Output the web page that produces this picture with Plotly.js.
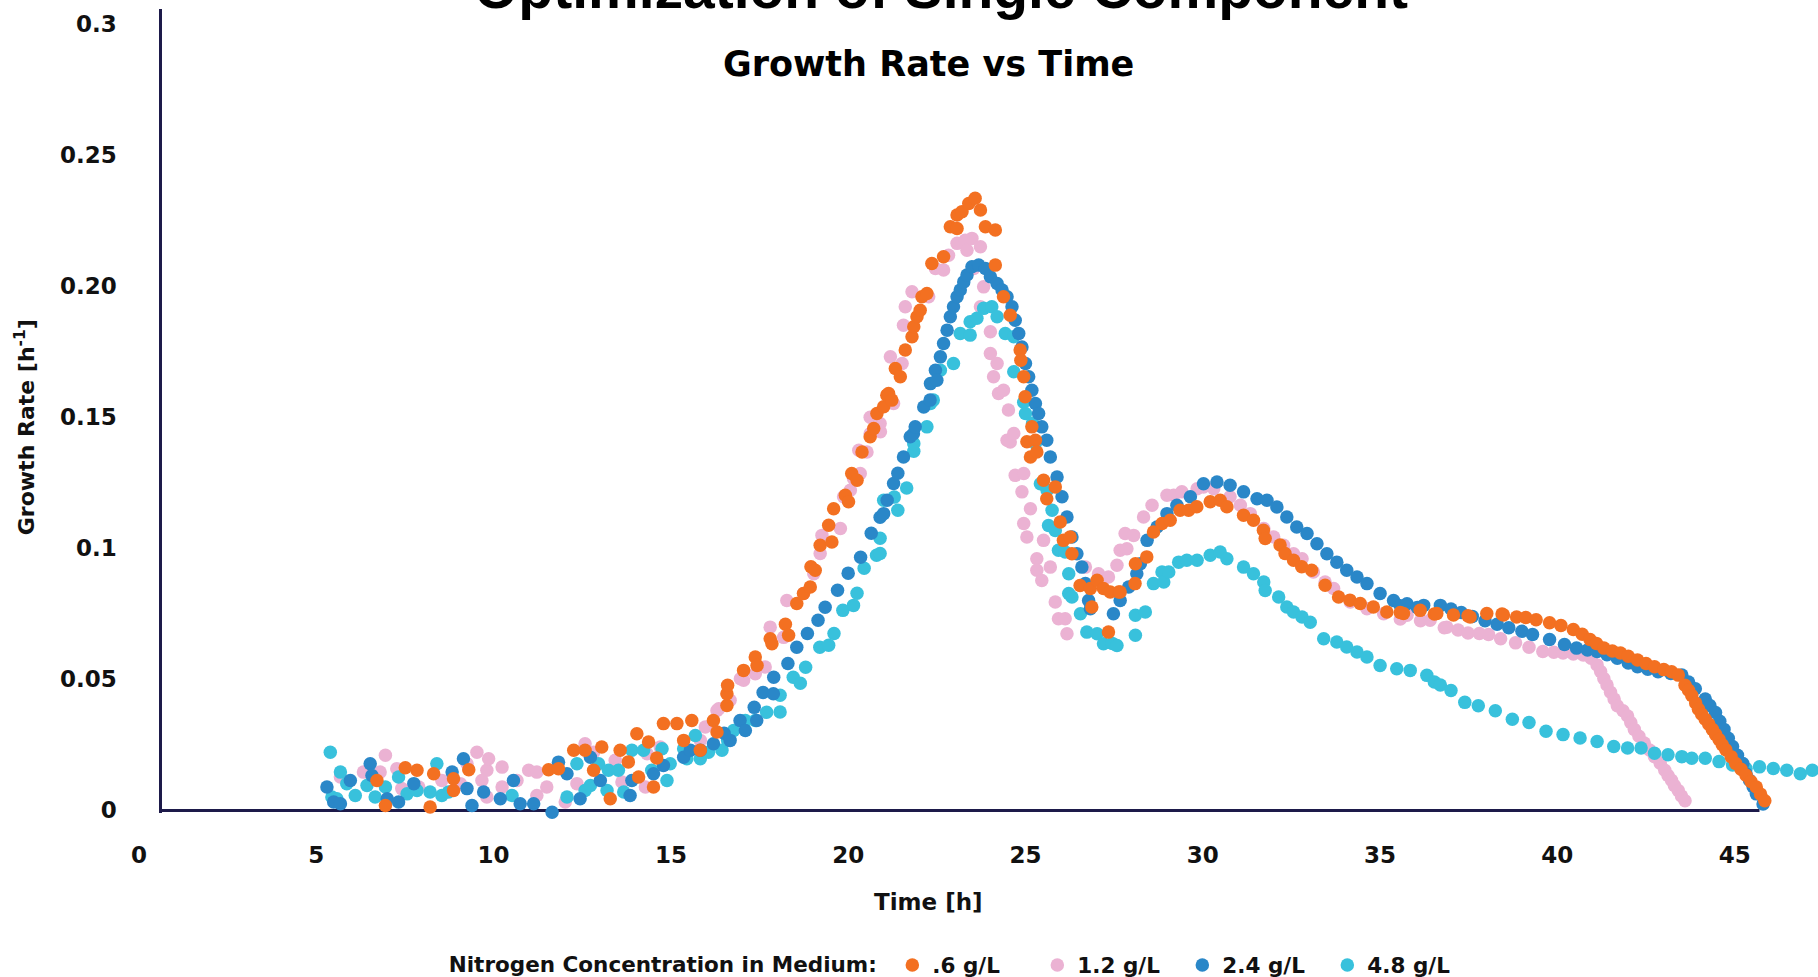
<!DOCTYPE html>
<html>
<head>
<meta charset="utf-8">
<script src="https://cdn.plot.ly/plotly-3.0.1.min.js"></script>
<style>html,body{margin:0;padding:0;background:#fff;}#chart{width:1818px;height:977px;}</style>
</head>
<body>
<div id="chart"></div>
<script>
// ---------- data ----------
const seriesNames = [".6 g/L", "1.2 g/L", "2.4 g/L", "4.8 g/L"];

const orangeX = [6.71,6.95,7.51,7.84,8.21,8.31,8.87,8.87,9.3,11.55,11.83,12.26,12.58,12.82,13.05,13.29,13.57,13.8,14.04,14.09,14.37,14.51,14.6,14.79,15.17,15.36,15.59,15.83,16.2,16.3,16.58,16.58,16.6,
17.05,17.38,17.43,17.8,17.85,18.23,18.32,18.55,18.74,18.93,18.95,19.07,19.21,19.45,19.54,19.59,19.92,20.01,20.1,20.25,20.39,20.62,20.72,20.81,21.0,21.09,21.14,21.23,21.33,21.47,21.61,21.8,21.85,21.94,22.03,22.08,22.22,22.36,22.69,22.88,23.07,23.07,23.21,23.4,23.58,23.73,23.87,24.15,24.15,24.38,24.57,24.85,24.87,24.95,24.99,25.04,25.18,25.28,25.14,25.32,25.51,25.6,25.84,25.98,26.07,26.26,26.31,26.54,26.83,26.87,27.02,27.2,27.34,27.39,27.63,27.67,28.09,28.1,28.42,28.61,28.85,29.08,29.36,29.6,29.83,30.21,30.49,30.68,31.15,31.43,31.71,31.76,32.18,32.32,32.56,32.79,33.07,33.45,33.83,34.15,34.44,34.81,35.19,35.57,35.66,36.13,36.53,36.6,37.07,37.48,37.54,38.01,38.44,38.48,38.85,39.11,39.4,39.78,40.1,40.45,40.7,40.92,41.1,41.31,41.55,41.78,42.0,42.26,42.5,42.74,43.0,43.22,43.41,43.6,43.7,43.79,43.9,43.98,44.07,44.17,44.27,44.37,44.46,44.56,44.65,44.75,44.9,45.03,45.18,45.32,45.46,45.61,45.73,45.85];
const orangeY = [0.0114,0.0019,0.0163,0.0153,0.0013,0.0140,0.0121,0.0076,0.0155,0.0155,0.0159,0.0229,0.0229,0.0153,0.0242,0.0044,0.0229,0.0185,0.0292,0.0127,0.0261,0.0089,0.0200,0.0331,0.0331,0.0267,0.0343,0.0229,0.0343,0.0299,0.0400,0.0445,0.0477,
0.0534,0.0585,0.0553,0.0655,0.0636,0.0710,0.0668,0.0789,0.0827,0.0852,0.0929,0.0916,0.1011,0.1088,0.1024,0.1151,0.1202,0.1177,0.1285,0.1259,0.1367,0.1425,0.1457,0.1514,0.1540,0.1584,0.1590,0.1565,0.1686,0.1654,0.1756,0.1807,0.1845,0.1883,0.1908,0.1959,0.1972,0.2086,0.2112,0.2226,0.2220,0.2271,0.2284,0.2315,0.2335,0.2290,0.2226,0.2214,0.2080,0.1959,0.1889,0.1756,0.1717,0.1654,0.1578,0.1406,0.1463,0.1412,0.1348,0.1367,0.1259,0.1189,0.1234,0.1100,0.1030,0.1043,0.0979,0.0858,0.0846,0.0776,0.0878,0.0846,0.0680,0.0833,0.0833,0.0833,0.0865,0.0941,0.0967,0.1062,0.1094,0.1107,0.1145,0.1145,0.1158,0.1177,0.1183,0.1158,0.1126,0.1107,0.1069,0.1037,0.1012,0.0980,0.0954,0.0929,0.0916,0.0859,0.0814,0.0802,0.0789,0.0776,0.0757,0.0755,0.0751,0.0763,0.0749,0.0751,0.0745,0.0742,0.0738,0.0751,0.0749,0.0745,0.0738,0.0736,0.0727,0.0716,0.0705,0.0690,0.0672,0.0652,0.0637,0.0619,0.0608,0.0600,0.0588,0.0574,0.0560,0.0548,0.0537,0.0529,0.0516,0.0477,0.0458,0.0438,0.0410,0.0386,0.0367,0.0348,0.0329,0.0309,0.0290,0.0270,0.0250,0.0231,0.0205,0.0179,0.0157,0.0134,0.0110,0.0089,0.0062,0.0037];

const pinkX = [5.68,6.33,6.8,6.95,7.27,7.41,7.89,8.54,9.06,9.25,9.53,9.67,9.81,9.81,9.86,10.24,10.24,10.66,10.99,11.22,11.22,11.5,12.02,12.35,12.58,12.82,13.43,13.62,14.28,14.33,14.7,15.83,15.97,16.3,16.35,16.67,16.96,17.05,17.38,17.66,17.8,18.18,18.27,18.74,19.03,19.21,19.26,19.78,19.87,20.06,20.15,20.3,20.34,20.53,20.62,20.62,20.9,20.91,21.14,21.19,21.28,21.52,21.56,21.61,21.8,22.27,22.46,22.69,22.83,23.07,23.3,23.35,23.49,23.54,23.73,23.73,23.82,24.01,24.01,24.1,24.2,24.24,24.38,24.48,24.52,24.57,24.67,24.71,24.9,24.95,24.95,25.04,25.14,25.32,25.32,25.46,25.51,25.7,25.84,25.93,26.12,26.17,26.69,27.06,27.34,27.58,27.67,27.81,27.86,28.05,28.33,28.57,28.99,29.18,29.41,29.84,30.02,30.31,30.77,31.06,31.34,31.72,32.0,32.28,32.56,32.8,33.12,33.45,33.69,34.16,34.63,35.1,35.57,35.76,36.14,36.41,36.81,36.88,37.2,37.48,37.8,38.06,38.4,38.82,39.2,39.59,39.9,40.16,40.45,40.73,40.95,41.12,41.22,41.31,41.4,41.5,41.6,41.69,41.85,41.98,42.07,42.17,42.3,42.45,42.6,42.74,42.9,43.03,43.12,43.22,43.3,43.41,43.5,43.6];
const pinkY = [0.0127,0.0146,0.0146,0.0210,0.0159,0.0083,0.0089,0.0114,0.0102,0.0178,0.0222,0.0114,0.0153,0.0051,0.0197,0.0165,0.0089,0.0114,0.0153,0.0146,0.0057,0.0089,0.0032,0.0102,0.0254,0.0222,0.0191,0.0108,0.0089,0.0216,0.0242,0.0267,0.0318,0.0381,0.0388,0.0420,0.0502,0.0496,0.0521,0.0547,0.0699,0.0660,0.0801,0.0827,0.0903,0.0980,0.1049,0.1075,0.1196,0.1221,0.1266,0.1374,0.1285,0.1367,0.1437,0.1500,0.1476,0.1444,0.1584,0.1730,0.1552,0.1705,0.1851,0.1921,0.1978,0.1959,0.2067,0.2061,0.2118,0.2163,0.2175,0.2137,0.2182,0.2067,0.2150,0.1921,0.1997,0.1826,0.1743,0.1654,0.1705,0.1590,0.1603,0.1412,0.1527,0.1405,0.1438,0.1278,0.1215,0.1285,0.1094,0.1043,0.1151,0.0960,0.0916,0.0877,0.1030,0.0928,0.0795,0.0731,0.0731,0.0674,0.0928,0.0903,0.0890,0.0935,0.0992,0.1056,0.0998,0.1049,0.1119,0.1164,0.1202,0.1202,0.1215,0.1227,0.1234,0.1227,0.1196,0.1164,0.1132,0.1075,0.1043,0.1011,0.0979,0.0960,0.0909,0.0871,0.0846,0.0795,0.0769,0.0750,0.0730,0.0744,0.0723,0.0725,0.0697,0.0699,0.0688,0.0677,0.0675,0.0671,0.0655,0.0639,0.0622,0.0606,0.0603,0.0600,0.0597,0.0593,0.0580,0.0555,0.0530,0.0503,0.0478,0.0451,0.0425,0.0399,0.0380,0.0360,0.0335,0.0309,0.0283,0.0257,0.0230,0.0205,0.0180,0.0153,0.0133,0.0115,0.0095,0.0076,0.0055,0.0037];

const blueX = [5.30,5.49,5.68,5.96,6.52,6.57,7.0,7.32,7.75,8.83,9.15,9.25,9.39,9.72,10.19,10.56,10.75,11.13,11.65,11.83,12.07,12.44,12.73,13.01,13.85,13.9,14.51,14.79,15.36,15.55,15.83,16.2,16.5,16.67,16.95,17.1,17.35,17.42,17.6,17.89,17.9,18.3,18.55,18.85,19.15,19.35,19.7,20.0,20.35,20.65,20.9,21.0,21.1,21.28,21.4,21.56,21.75,21.84,21.89,22.13,22.31,22.32,22.46,22.5,22.6,22.69,22.79,22.88,22.97,23.07,23.16,23.26,23.35,23.49,23.68,23.87,24.01,24.2,24.34,24.48,24.62,24.71,24.81,24.9,25.0,25.09,25.18,25.28,25.37,25.46,25.6,25.7,25.89,26.03,26.17,26.31,26.45,26.59,26.69,26.78,26.83,27.48,27.67,27.91,28.14,28.24,28.43,28.71,28.99,29.27,29.65,30.02,30.4,30.77,31.15,31.53,31.81,32.09,32.37,32.65,32.94,33.22,33.5,33.78,34.06,34.35,34.63,35.0,35.38,35.57,35.76,36.05,36.23,36.7,37.0,37.29,37.6,37.96,38.3,38.63,39.0,39.3,39.78,40.2,40.54,40.85,41.12,41.4,41.69,42.0,42.26,42.55,42.84,43.2,43.51,43.7,43.89,44.17,44.3,44.46,44.58,44.7,44.82,44.94,45.08,45.23,45.32,45.42,45.52,45.61,45.8];
const blueY = [0.0089,0.0032,0.0025,0.0114,0.0178,0.0133,0.0044,0.0032,0.0102,0.0146,0.0197,0.0083,0.0019,0.0070,0.0044,0.0114,0.0025,0.0025,-0.0007,0.0184,0.0140,0.0044,0.0203,0.0114,0.0057,0.0114,0.0140,0.0171,0.0203,0.0229,0.0229,0.0254,0.0294,0.0267,0.0343,0.0305,0.0393,0.0343,0.0450,0.0445,0.0508,0.0560,0.0622,0.0675,0.0725,0.0775,0.0840,0.0905,0.0966,0.1057,0.1118,0.1132,0.1183,0.1247,0.1286,0.1348,0.1425,0.1437,0.1463,0.1539,0.1565,0.1628,0.1679,0.1641,0.1730,0.1781,0.1832,0.1883,0.1921,0.1959,0.1985,0.2016,0.2042,0.2074,0.2080,0.2067,0.2036,0.2010,0.1985,0.1959,0.1921,0.1870,0.1819,0.1768,0.1705,0.1654,0.1603,0.1552,0.1514,0.1463,0.1412,0.1348,0.1272,0.1196,0.1119,0.1043,0.0979,0.0928,0.0865,0.0801,0.0769,0.0750,0.0801,0.0852,0.0903,0.0941,0.1030,0.1081,0.1132,0.1164,0.1196,0.1246,0.1253,0.1240,0.1215,0.1189,0.1183,0.1157,0.1119,0.1081,0.1056,0.1017,0.0979,0.0947,0.0916,0.0890,0.0865,0.0827,0.0801,0.0781,0.0788,0.0774,0.0782,0.0782,0.0768,0.0755,0.0740,0.0723,0.0710,0.0697,0.0683,0.0671,0.0652,0.0633,0.0619,0.0612,0.0606,0.0594,0.0580,0.0562,0.0548,0.0538,0.0529,0.0522,0.0516,0.0490,0.0464,0.0425,0.0400,0.0373,0.0340,0.0309,0.0275,0.0244,0.0210,0.0179,0.0140,0.0115,0.0090,0.0063,0.0024];

const cyanX = [5.395,5.44,5.58,5.68,5.86,6.10,6.43,6.66,6.95,7.32,7.56,7.84,8.21,8.40,8.54,8.73,10.52,12.07,12.35,12.58,12.73,12.96,13.2,13.24,13.52,13.67,13.9,14.23,14.46,14.75,14.89,14.98,15.36,15.45,15.69,15.83,16.06,16.44,16.6,16.77,17.1,17.38,17.7,18.08,18.08,18.45,18.65,18.8,19.2,19.45,19.6,19.85,20.15,20.25,20.45,20.8,20.9,20.9,21.0,21.3,21.4,21.65,21.85,21.85,22.22,22.32,22.4,22.6,22.97,23.16,23.44,23.44,23.63,23.82,24.05,24.2,24.43,24.67,24.67,24.95,25.0,25.2,25.28,25.42,25.61,25.65,25.75,25.84,25.93,26.12,26.22,26.22,26.31,26.55,26.73,27.02,27.2,27.45,27.58,28.1,28.1,28.38,28.61,28.85,28.9,29.04,29.32,29.55,29.84,30.21,30.49,30.68,31.15,31.43,31.72,31.76,32.14,32.37,32.56,32.8,33.03,33.41,33.78,34.06,34.35,34.63,35.0,35.47,35.85,36.32,36.53,36.7,37.0,37.39,37.77,38.25,38.73,39.2,39.68,40.16,40.64,41.12,41.59,41.98,42.36,42.74,43.12,43.51,43.79,44.17,44.56,44.94,45.32,45.7,46.09,46.47,46.85,47.19];
const cyanY = [0.0222,0.0051,0.0044,0.0146,0.0102,0.0057,0.0095,0.0051,0.0089,0.0127,0.0063,0.0076,0.0070,0.0178,0.0057,0.0070,0.0057,0.0051,0.0178,0.0076,0.0095,0.0178,0.0076,0.0153,0.0153,0.0070,0.0229,0.0229,0.0153,0.0235,0.0114,0.0178,0.0235,0.0197,0.0286,0.0197,0.0222,0.0229,0.0267,0.0305,0.0343,0.0343,0.0374,0.0375,0.0439,0.0508,0.0485,0.0546,0.0622,0.0630,0.0675,0.0763,0.0782,0.0828,0.0924,0.0973,0.1038,0.0980,0.1183,0.1195,0.1145,0.1230,0.1370,0.1399,0.1463,0.1552,0.1565,0.1679,0.1705,0.1819,0.1813,0.1864,0.1877,0.1915,0.1921,0.1883,0.1819,0.1807,0.1673,0.1557,0.1514,0.1477,0.1400,0.1246,0.1221,0.1087,0.1145,0.1068,0.0992,0.0986,0.0903,0.0827,0.0814,0.0750,0.0680,0.0674,0.0636,0.0637,0.0629,0.0668,0.0744,0.0757,0.0865,0.0909,0.0871,0.0909,0.0947,0.0954,0.0954,0.0973,0.0986,0.0960,0.0928,0.0903,0.0871,0.0839,0.0814,0.0776,0.0757,0.0738,0.0718,0.0655,0.0642,0.0623,0.0604,0.0585,0.0553,0.0540,0.0534,0.0515,0.0490,0.0478,0.0457,0.0412,0.0399,0.0380,0.0348,0.0335,0.0302,0.0289,0.0276,0.0263,0.0244,0.0238,0.0238,0.0218,0.0212,0.0205,0.0199,0.0199,0.0186,0.0173,0.0160,0.0166,0.0160,0.0153,0.0140,0.0153];

const xTickVals = [0,5,10,15,20,25,30,35,40,45];
const yTickVals = [0,0.05,0.1,0.15,0.2,0.25,0.3];
const yTickText = ["0","0.05","0.1","0.15","0.20","0.25","0.3"];
const xAxisLineSpan = [0.6, 45.7];   // where the drawn x axis line runs

const titleText = "Optimization of Single Component";
const subtitleText = "Growth Rate vs Time";
const xTitleText = "Time [h]";
const yTitleText = "Growth Rate [h<sup>-1</sup>]";
const legendTitleText = "Nitrogen Concentration in Medium:";

// ---------- styling ----------
const colors = ["#F37021", "#EBB2D3", "#2A87C8", "#38C1DC"];
const FONT = "DejaVu Sans, sans-serif";
const axisColor = "#1D1A4A";
const txt = "#111111";

function mk(x, y, i, rank) {
  return {
    type: "scatter", mode: "markers", x: x, y: y, name: seriesNames[i],
    legendrank: rank, cliponaxis: false, hoverinfo: "skip",
    marker: {color: colors[i], size: 13.5, line: {width: 0}}
  };
}
// draw order: pink, cyan, blue, orange (orange on top); legend order by rank
const data = [
  mk(pinkX, pinkY, 1, 2),
  mk(cyanX, cyanY, 3, 4),
  mk(blueX, blueY, 2, 3),
  mk(orangeX, orangeY, 0, 1)
];

const layout = {
  width: 1818, height: 977,
  margin: {l: 139, r: 0, t: 9, b: 164.4, autoexpand: false},
  paper_bgcolor: "#ffffff", plot_bgcolor: "#ffffff",
  showlegend: true,
  font: {family: FONT, color: txt, size: 21, weight: "bold"},
  xaxis: {
    range: [0, 47.35], domain: [0, 1], showgrid: false, zeroline: false, showline: false,
    tickmode: "array", tickvals: xTickVals, ticks: "", ticklabelstandoff: 26,
    tickfont: {family: FONT, size: 23, color: txt, weight: "bold"}
  },
  yaxis: {
    range: [-0.001, 0.3057], anchor: "free", position: 0.0127, showgrid: false, zeroline: false,
    showline: true, linecolor: axisColor, linewidth: 3,
    tickmode: "array", tickvals: yTickVals, ticktext: yTickText, ticks: "", ticklabelstandoff: 38,
    tickfont: {family: FONT, size: 23, color: txt, weight: "bold"}
  },
  shapes: [
    {type: "line", xref: "x", yref: "y", x0: xAxisLineSpan[0], x1: xAxisLineSpan[1], y0: 0, y1: 0,
     line: {color: axisColor, width: 3}, layer: "below"}
  ],
  legend: {
    orientation: "h", x: 0.1833, xanchor: "left", y: -0.189, yanchor: "middle",
    title: {text: legendTitleText + " ", side: "left", font: {family: FONT, size: 21.5, color: txt, weight: "bold"}},
    font: {family: FONT, size: 21.5, color: txt, weight: "bold"},
    itemsizing: "trace", entrywidth: 100, entrywidthmode: "pixels", bgcolor: "rgba(0,0,0,0)"
  },
  annotations: [
    {text: titleText, xref: "paper", yref: "paper", x: 0.4777, y: 0.9841, xanchor: "center", yanchor: "bottom",
     showarrow: false, font: {family: "Liberation Sans, Arial, sans-serif", size: 57, color: "#000000", weight: "bold"}},
    {text: subtitleText, xref: "paper", yref: "paper", x: 0.4705, y: 0.9316, xanchor: "center", yanchor: "middle",
     showarrow: false, font: {family: FONT, size: 35, color: "#000000", weight: "bold"}},
    {text: yTitleText, xref: "paper", yref: "paper", x: -0.0679, y: 0.4798, xanchor: "center", yanchor: "middle",
     textangle: -90, showarrow: false, font: {family: FONT, size: 22, color: txt, weight: "bold"}},
    {text: xTitleText, xref: "paper", yref: "paper", x: 0.4705, y: -0.1113, xanchor: "center", yanchor: "middle",
     showarrow: false, font: {family: FONT, size: 23, color: txt, weight: "bold"}}
  ]
};

Plotly.newPlot("chart", data, layout, {staticPlot: true, displayModeBar: false});
</script>
</body>
</html>
